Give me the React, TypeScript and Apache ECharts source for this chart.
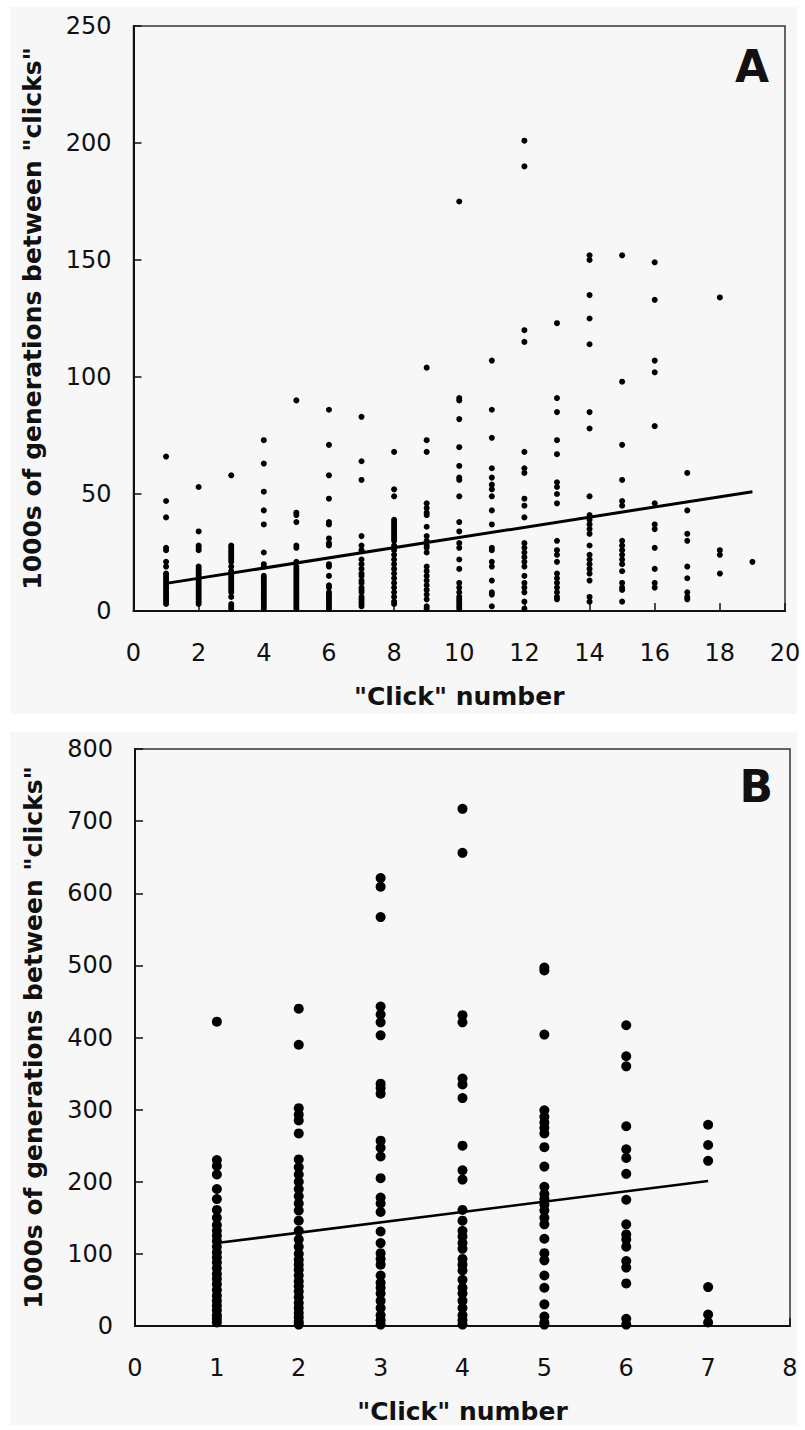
import React, { useEffect, useRef } from "react";
import * as echarts from "echarts";

// Panel A: "Click" number 1..19 and the observed values (1000s of generations)
const clickNumbersA: number[] = [1, 2, 3, 4, 5, 6, 7, 8, 9, 10, 11, 12, 13, 14, 15, 16, 17, 18, 19];
const valuesA: number[][] = [
  [66, 47, 40, 27, 26, 21, 19, 16, 15, 14, 13, 12, 11, 10, 9, 8, 7, 6, 5, 4, 3],
  [53, 34, 28, 27, 26, 19, 18, 17, 16, 15, 14, 13, 12, 11, 10, 9, 8, 7, 6, 5, 4, 3],
  [58, 28, 27, 26, 25, 24, 23, 22, 21, 19, 17, 16, 15, 14, 13, 12, 11, 10, 9, 8, 6, 3, 2, 1],
  [73, 63, 51, 43, 37, 25, 20, 19, 15, 14, 13, 12, 11, 10, 9, 8, 7, 6, 5, 4, 3, 2, 1],
  [90, 42, 41, 38, 28, 27, 21, 19, 18, 17, 16, 15, 14, 13, 12, 11, 10, 9, 8, 7, 6, 5, 4, 3, 2, 1],
  [86, 71, 58, 48, 38, 37, 31, 29, 28, 20, 19, 15, 11, 10, 8, 7, 6, 5, 4, 3, 2, 1],
  [83, 64, 56, 32, 28, 26, 22, 20, 18, 16, 15, 13, 12, 10, 9, 8, 6, 5, 4, 3, 2],
  [68, 52, 49, 39, 38, 37, 36, 35, 34, 33, 32, 31, 30, 28, 26, 24, 22, 20, 18, 16, 14, 12, 10, 8, 6, 4, 3],
  [104, 73, 68, 46, 44, 42, 41, 36, 32, 30, 28, 27, 25, 19, 17, 15, 13, 11, 9, 7, 5, 2, 1],
  [175, 91, 90, 82, 70, 62, 57, 56, 49, 38, 34, 29, 27, 22, 18, 12, 10, 8, 6, 5, 4, 3, 2, 1],
  [107, 86, 74, 61, 57, 54, 52, 49, 43, 37, 27, 26, 21, 19, 13, 8, 7, 2],
  [201, 190, 120, 115, 68, 61, 59, 48, 45, 40, 29, 27, 25, 23, 21, 19, 15, 12, 10, 8, 4, 1],
  [123, 91, 85, 73, 67, 55, 53, 50, 46, 30, 26, 24, 21, 16, 14, 12, 10, 8, 6, 5],
  [152, 150, 135, 125, 114, 85, 78, 49, 41, 39, 37, 35, 33, 28, 24, 22, 20, 18, 16, 13, 6, 4],
  [152, 98, 71, 56, 47, 45, 30, 28, 26, 24, 22, 20, 17, 12, 10, 9, 4],
  [149, 133, 107, 102, 79, 46, 37, 35, 27, 18, 12, 10],
  [59, 43, 33, 30, 19, 14, 8, 6, 5],
  [134, 26, 24, 16],
  [21],
];
const trendA: number[][] = [[1, 11.8], [19, 51]];
const xTicksA = { min: 0, max: 20, interval: 2 };
const yTicksA = { min: 0, max: 250, interval: 50 };

// Panel B
const clickNumbersB: number[] = [1, 2, 3, 4, 5, 6, 7];
const valuesB: number[][] = [
  [422, 230, 222, 210, 190, 176, 161, 150, 140, 132, 125, 118, 110, 102, 95, 88, 80, 72, 65, 58, 50, 42, 35, 28, 22, 15, 10, 5],
  [440, 390, 302, 293, 285, 267, 231, 220, 210, 200, 190, 180, 170, 160, 146, 132, 120, 110, 100, 92, 85, 78, 70, 62, 55, 48, 40, 32, 25, 18, 12, 6, 2],
  [621, 609, 567, 443, 432, 421, 403, 336, 330, 322, 257, 247, 235, 205, 178, 170, 158, 131, 115, 101, 93, 85, 70, 60, 53, 45, 35, 25, 15, 8, 2],
  [717, 656, 431, 421, 343, 335, 316, 250, 216, 203, 161, 146, 132, 124, 115, 107, 93, 85, 77, 64, 53, 45, 35, 25, 15, 8, 2],
  [497, 493, 404, 299, 290, 282, 275, 267, 248, 221, 193, 183, 176, 168, 160, 150, 141, 121, 101, 91, 70, 53, 30, 13, 5, 2],
  [417, 374, 360, 277, 245, 233, 211, 175, 141, 127, 120, 110, 90, 81, 59, 10, 2],
  [279, 251, 229, 54, 16, 5],
];
const trendB: number[][] = [[1, 115], [7, 201]];
const xTicksB = { min: 0, max: 8, interval: 1 };
const yTicksB = { min: 0, max: 800, interval: 100 };

const yTitle = '1000s of generations between "clicks"';
const xTitle = '"Click" number';

function pairs(xs: number[], vals: number[][]): number[][] {
  const out: number[][] = [];
  xs.forEach((x, i) => vals[i].forEach((v) => out.push([x, v])));
  return out;
}

const FONT = "DejaVu Sans";
const INK = "#111";

function xAxisCfg(gridIndex: number, t: { min: number; max: number; interval: number }) {
  return {
    type: "value",
    gridIndex,
    ...t,
    name: xTitle,
    nameLocation: "middle",
    nameGap: 73,
    nameTextStyle: { fontFamily: FONT, fontWeight: "bold", fontSize: 25, color: INK },
    axisLine: { show: true, onZero: false, lineStyle: { color: INK, width: 2 } },
    axisTick: { show: true, inside: true, length: 8, lineStyle: { color: INK, width: 1.5 } },
    axisLabel: { fontFamily: FONT, fontSize: 24, color: INK, margin: 30 },
    splitLine: { show: false },
  };
}

function yAxisCfg(gridIndex: number, t: { min: number; max: number; interval: number }) {
  return {
    type: "value",
    gridIndex,
    ...t,
    name: yTitle,
    nameLocation: "middle",
    nameRotate: 90,
    nameGap: 89,
    nameTextStyle: { fontFamily: FONT, fontWeight: "bold", fontSize: 25, color: INK },
    axisLine: { show: true, onZero: false, lineStyle: { color: INK, width: 2 } },
    axisTick: { show: true, inside: true, length: 8, lineStyle: { color: INK, width: 1.5 } },
    axisLabel: { fontFamily: FONT, fontSize: 24, color: INK, margin: 22 },
    splitLine: { show: false },
  };
}

export default function App() {
  const ref = useRef<HTMLDivElement>(null);
  useEffect(() => {
    if (!ref.current) return;
    const chart = echarts.init(ref.current, null, { renderer: "svg" });
    chart.setOption({
      animation: false,
      backgroundColor: "#ffffff",
      grid: [
        { left: 133.5, top: 26, width: 651.5, height: 585, show: true, borderColor: "#333", borderWidth: 1.5, backgroundColor: "transparent" },
        { left: 135, top: 749, width: 655, height: 577, show: true, borderColor: "#333", borderWidth: 1.5, backgroundColor: "transparent" },
      ],
      xAxis: [xAxisCfg(0, xTicksA), xAxisCfg(1, xTicksB)],
      yAxis: [yAxisCfg(0, yTicksA), yAxisCfg(1, yTicksB)],
      graphic: [
        { type: "rect", z: -10, shape: { x: 10, y: 7, width: 787, height: 707 }, style: { fill: "#f7f7f7" } },
        { type: "rect", z: -10, shape: { x: 10, y: 732, width: 787, height: 693 }, style: { fill: "#f7f7f7" } },
        { type: "text", x: 769, y: 66, style: { text: "A", font: `bold 44px "${FONT}"`, fill: INK, align: "right", verticalAlign: "middle" } },
        { type: "text", x: 773, y: 786, style: { text: "B", font: `bold 44px "${FONT}"`, fill: INK, align: "right", verticalAlign: "middle" } },
      ],
      series: [
        { type: "scatter", xAxisIndex: 0, yAxisIndex: 0, symbol: "circle", symbolSize: 6, itemStyle: { color: "#000", opacity: 1 }, data: pairs(clickNumbersA, valuesA) },
        { type: "line", xAxisIndex: 0, yAxisIndex: 0, symbol: "none", lineStyle: { color: "#000", width: 3 }, data: trendA },
        { type: "scatter", xAxisIndex: 1, yAxisIndex: 1, symbol: "circle", symbolSize: 10, itemStyle: { color: "#000", opacity: 1 }, data: pairs(clickNumbersB, valuesB) },
        { type: "line", xAxisIndex: 1, yAxisIndex: 1, symbol: "none", lineStyle: { color: "#000", width: 2.5 }, data: trendB },
      ],
    });
    return () => chart.dispose();
  }, []);
  return (
    <div
      ref={ref}
      style={{ position: "absolute", left: 0, top: 0, width: 805, height: 1430, background: "#fff" }}
    />
  );
}
